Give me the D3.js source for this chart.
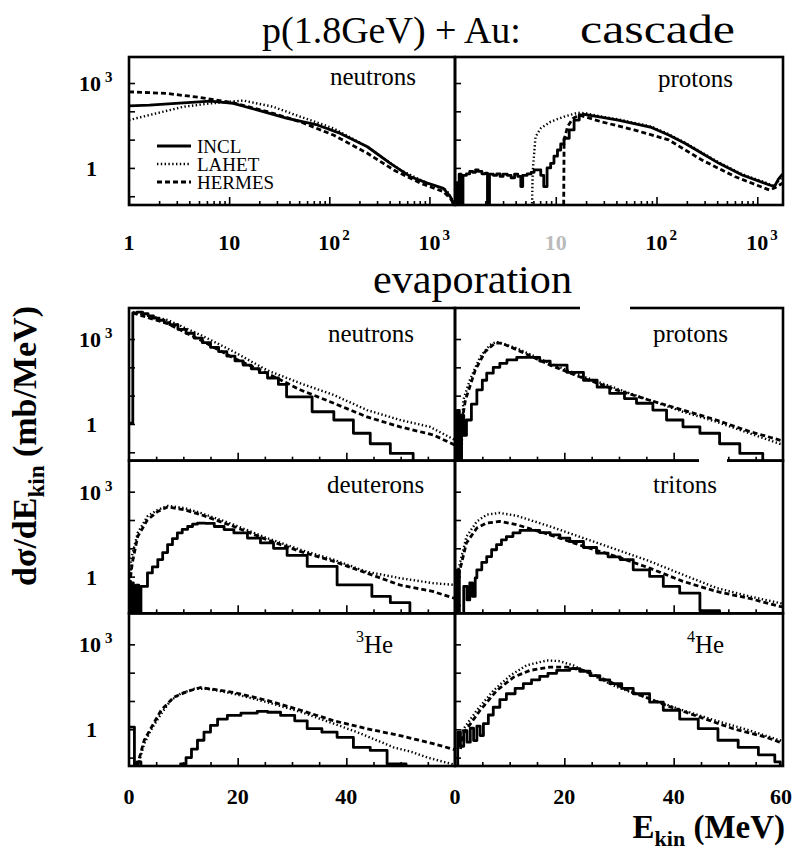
<!DOCTYPE html>
<html>
<head>
<meta charset="utf-8">
<script src="https://cdn.jsdelivr.net/npm/d3@7/dist/d3.min.js"></script>
<style>
html,body{margin:0;padding:0;background:#fff;}
svg{display:block;}
</style>
</head>
<body>
<svg id="chart" width="793" height="857"></svg>
<script>
// ================= DATA =================
const seriesNames = ["INCL", "LAHET", "HERMES"];
const cascadeXTicks = [1, 10, 100, 1000];
const evapXTicksLeft = [0, 20, 40];
const evapXTicksRight = [0, 20, 40, 60];
const yTickLabelValues = [1, 1000];
const cascadeEnergyDomain = [1, 1800];
const cascadeValueDomain = [0.049, 8300];
const evapEnergyDomain = [0, 60];
const evapValueDomain = [0.0506, 12450];

// cascade, neutrons  [E (MeV), dσ/dE (mb/MeV)]
const cascadeNeutronINCL = [[1,155],[1.6,166],[3.5,200],[6.5,229],[11,191],[19,112],[38,56],[76,33],[129,16.6],[240,5.6],[407,1.45],[646,0.49],[955,0.29],[1380,0.19],[1620,0.095],[1740,0.049]];
const cascadeNeutronLAHET = [[1,49],[1.6,74],[3.5,145],[6.5,190],[13.8,240],[27.5,145],[51,65],[110,25],[240,5.6],[510,0.85],[950,0.29],[1480,0.166],[1740,0.063]];
const cascadeNeutronHERMES = [[1,490],[2.4,427],[5.1,309],[11,200],[24,98],[51,43],[110,14.5],[240,3.3],[440,0.85],[810,0.29],[1380,0.145],[1740,0.063]];

// cascade, protons
const cascadeProtonINCLLow = [[1.0,0.3],[1.05,0.001],[1.1,0.6],[1.15,0.001],[1.2,0.55],[1.3,0.62],[1.4,0.75],[1.5,0.7],[1.6,0.85],[1.7,0.75],[1.85,0.62],[2.0,0.65],[2.1,0.001],[2.2,0.6],[2.4,0.55],[2.6,0.62],[2.8,0.5],[3.0,0.6],[3.3,0.55],[3.6,0.45],[3.9,0.6],[4.2,0.5],[4.5,0.22],[4.7,0.55],[5.2,0.62],[5.7,0.7],[6.1,0.85],[7.1,0.55],[7.6,0.22],[8.2,1.0],[8.9,1.45],[9.6,2.6],[10.4,4.3],[11.2,7],[12.1,11.2],[13.6,22],[15.2,49],[17.1,74],[18.5,80]];
const cascadeProtonINCL = [[18.5,80],[28,62],[41.6,49],[89,27],[132,14.5],[191,7.4],[282,3.3],[417,1.45],[708,0.56],[1320,0.25],[1480,0.22],[1620,0.4],[1780,0.6]];
const cascadeProtonLAHET = [[5.7,0.001],[5.9,0.74],[6.3,12.6],[7.1,25],[8.9,43],[12.1,65],[16.6,89],[20,85],[28,66],[41.6,52],[89,29],[132,15.5],[191,7.9],[282,3.5],[417,1.55],[708,0.6],[1320,0.27],[1480,0.23],[1780,0.5]];
const cascadeProtonHERMES = [[11.9,0.001],[12.1,9.8],[13.1,29],[14.8,56],[17.1,74],[28.2,43],[60,22],[132,9.8],[282,1.9],[603,0.49],[1320,0.166],[1500,0.2],[1780,0.29]];

// evaporation, neutrons
const evapNeutronINCL = [[0,1.07],[0.7,8300],[1.5,8900],[2.5,7900],[3.5,6600],[4.5,5500],[5.5,4600],[6.5,3800],[7.5,3200],[9,2200],[10.5,1600],[12,1070],[13.5,740],[15,510],[16.5,360],[18,250],[19.5,170],[21,120],[22.5,89],[24,65],[25.5,42],[27.5,25],[29,9.1],[33.7,2.7],[37.7,1.38],[41.3,0.47],[44.4,0.2],[48.1,0.091],[52.3,0.001]];
const evapNeutronLAHET = [[0.7,8900],[7.1,4700],[13.2,1380],[19.3,355],[25.4,79],[31.6,27],[37.7,10.5],[43.8,3.1],[49.9,1.38],[55.4,0.79],[60,0.27]];
const evapNeutronHERMES = [[0.7,8300],[7.1,3500],[13.2,910],[19.3,210],[25.4,62],[31.6,15.8],[37.7,5.4],[43.8,1.78],[49.9,0.79],[56,0.41],[60,0.18]];

// evaporation, protons
const evapProtonINCL = [[0,0.001],[0.4,3.0],[0.8,0.001],[1.2,2.0],[1.6,0.4],[2.1,1.38],[3.0,5.0],[4.0,16],[5.0,35],[5.8,62],[7.0,100],[8.2,138],[9.5,182],[11.3,224],[13.7,224],[15.5,166],[17.4,120],[20.5,66],[23.5,35],[26,20],[28.3,12],[31,7.9],[33.2,5.4],[36.2,3.1],[38.7,1.38],[41.7,0.79],[44.8,0.47],[48.4,0.2],[52.1,0.091],[56.3,0.001]];
const evapProtonLAHET = [[0.9,0.001],[1.5,6.9],[2.7,35],[4.6,235],[6.4,620],[7.6,800],[11.3,470],[17.4,138],[23.5,47],[29.5,18],[35.6,6.9],[41.7,2.7],[47.8,1.2],[53.9,0.47],[59.4,0.2],[60,0.19]];
const evapProtonHERMES = [[1.0,0.001],[1.2,1.0],[1.9,6.9],[3.7,79],[5.5,355],[7.3,710],[8.5,720],[11.3,420],[17.4,120],[23.5,41],[29.5,16],[35.6,6.9],[41.7,3.1],[47.8,1.38],[53.9,0.54],[59.4,0.27],[60,0.25]];

// evaporation, deuterons
const evapDeuteronINCL = [[0,0.001],[0.3,0.6],[0.8,0.001],[1.3,0.5],[1.8,0.001],[2.2,0.45],[3.4,1.35],[4.3,2.2],[5.3,4.0],[6.2,7.1],[7.1,13.5],[8.0,22],[8.9,35],[9.8,47],[10.8,59],[11.7,71],[12.6,78],[14,76],[15.7,59],[17.5,46],[19.3,35],[21.8,23],[24.2,15.5],[26.6,10],[29.1,5.6],[32.8,2.3],[38.3,0.51],[44.7,0.2],[48.1,0.12],[51.7,0.001]];
const evapDeuteronLAHET = [[0.2,0.001],[0.37,4.0],[1.6,35],[3.4,135],[5.3,230],[7.1,316],[10.2,263],[13.2,178],[19.3,68],[25.4,23],[31.5,8.9],[37.6,4.0],[43.7,1.5],[49.8,0.89],[55.9,0.59],[60,0.51]];
const evapDeuteronHERMES = [[0.1,0.5],[0.6,3.0],[1.6,26],[3.4,102],[5.3,200],[7.1,290],[10.2,230],[13.2,155],[19.3,59],[25.4,20],[31.5,7.8],[37.6,3.5],[43.7,1.35],[49.8,0.51],[55.9,0.3],[60,0.17]];

// evaporation, tritons
const evapTritonINCL = [[0,0.001],[0.3,1.7],[0.8,0.001],[1.6,0.45],[2.2,0.15],[2.7,0.6],[3.2,0.2],[3.7,0.9],[4.0,1.74],[4.9,3.2],[5.8,5.1],[6.7,8.9],[7.6,13.5],[8.5,20],[9.4,26],[10.6,35],[11.9,43],[13.5,43],[15.5,36],[17.4,30],[19.2,23],[21,17.4],[23.5,10.7],[25.9,6.8],[28,5.0],[30.2,4.0],[32.6,1.74],[35.6,1.02],[38.1,0.45],[41.1,0.26],[44.8,0.063],[48.4,0.001]];
const evapTritonLAHET = [[0.3,1.0],[2.1,26],[4.0,89],[5.8,155],[8.2,178],[11.3,141],[17.4,59],[23.5,23],[29.6,8.9],[35.6,3.5],[41.7,1.17],[47.8,0.4],[53.9,0.2],[59.4,0.117],[60,0.11]];
const evapTritonHERMES = [[0.3,0.58],[2.1,15.5],[4.0,52],[5.8,78],[8.2,89],[11.3,68],[17.4,30],[23.5,11.7],[29.6,5.1],[35.6,2.0],[41.7,0.68],[47.8,0.3],[53.9,0.17],[59.4,0.089],[60,0.085]];

// evaporation, 3He
const evap3HeINCL = [[0,1.2],[1.0,0.001],[1.5,0.07],[2.2,0.001],[9.5,0.06],[10.5,0.1],[11.5,0.2],[12.6,0.41],[13.8,0.79],[15.0,1.38],[16.3,2.3],[18.1,3.1],[20.6,3.7],[23.6,4.3],[25.5,4.0],[27.9,3.1],[30.5,2.0],[32.8,1.05],[35.5,0.79],[38.3,0.52],[41.3,0.23],[44.4,0.18],[47.5,0.06],[51,0.001]];
const evap3HeLAHET = [[1.5,0.04],[2.8,0.31],[4.0,0.91],[5.9,3.5],[7.7,10.5],[9.5,18],[12.0,27],[14.4,27],[19.3,18],[25.4,9.1],[31.6,4.1],[37.7,1.58],[42,0.79],[45.6,0.41],[48.7,0.23],[52,0.16],[55,0.1],[58,0.07],[60,0.056]];
const evap3HeHERMES = [[1.5,0.05],[2.8,0.41],[5.9,4.7],[8.3,13.8],[10.8,22],[13.2,30],[19.3,20],[25.4,10.5],[31.6,4.7],[37.7,2.0],[43.8,1.05],[49.9,0.6],[56,0.31],[59.6,0.2],[60,0.19]];

// evaporation, 4He
const evap4HeINCL = [[0,0.001],[0.5,0.8],[1.0,0.25],[1.6,0.9],[2.2,0.35],[2.8,1.1],[3.4,0.4],[4.0,1.3],[4.6,0.6],[5.2,1.58],[6.1,3.2],[7.0,6.0],[8.2,11.2],[9.4,18],[11,28],[12.5,41],[14,56],[15.5,74],[17,95],[18.6,120],[21.0,138],[22.8,112],[24.7,79],[26.5,56],[28.3,41],[30.5,28],[32.6,18],[35.6,9.1],[38.1,4.7],[41.1,2.3],[44.5,1.05],[48.1,0.41],[51.8,0.23],[55.5,0.126],[58.5,0.071],[59.5,0.001]];
const evap4HeLAHET = [[0.5,0.2],[0.9,0.69],[4.0,4.7],[7.0,23],[10.1,79],[13.1,182],[16.8,270],[19,257],[21.6,182],[25.3,79],[29.6,31],[35.6,12],[41.7,4.7],[47.8,2.0],[53.9,0.91],[59.4,0.41],[60,0.38]];
const evap4HeHERMES = [[1.0,0.2],[1.5,0.69],[4.6,4.7],[7.6,23],[10.7,69],[13.7,120],[17.4,158],[20.5,158],[23.5,120],[27.7,54],[32.6,20],[38.7,6.9],[44.8,2.7],[50.9,1.05],[57,0.52],[59.4,0.35],[60,0.33]];

// ================= DRAWING =================
const SERIF = "'Liberation Serif', 'Times New Roman', Times, serif";
const svg = d3.select("#chart");
const defs = svg.append("defs");

const L = {xl: 129, xm: 455, xr: 783, cTop: 57, cBot: 205, eTop: 308, eBot: 766};
const rowH = (L.eBot - L.eTop) / 3;

const styles = {
  INCL:   {w: 2.8, dash: null},
  LAHET:  {w: 2.4, dash: "1.4,2.4"},
  HERMES: {w: 2.8, dash: "5,3"}
};

const xCasL = d3.scaleLog().domain(cascadeEnergyDomain).range([L.xl, L.xm]);
const xCasR = d3.scaleLog().domain(cascadeEnergyDomain).range([L.xm, L.xr]);
const yCas = d3.scaleLog().domain(cascadeValueDomain).range([L.cBot, L.cTop]);
const xEvL = d3.scaleLinear().domain(evapEnergyDomain).range([L.xl, L.xm]);
const xEvR = d3.scaleLinear().domain(evapEnergyDomain).range([L.xm, L.xr]);
const yEv = r => d3.scaleLog().domain(evapValueDomain).range([L.eTop + (r + 1) * rowH, L.eTop + r * rowH]);

const casMinor = [];
cascadeXTicks.forEach(d => { for (let m = 2; m <= 9; m++) if (d * m <= cascadeEnergyDomain[1]) casMinor.push(d * m); });
const evMinor = d3.range(5, 60, 5).filter(v => v % 20 !== 0);
const evMajor = [20, 40];
const yDecades = [0.1, 1, 10, 100, 1000];

function drawPanel(p) {
  const [x0, x1] = p.x.range();
  const [y1, y0] = p.y.range();
  const cid = "clip-" + p.id;
  defs.append("clipPath").attr("id", cid).append("rect")
    .attr("x", x0).attr("y", y0).attr("width", x1 - x0).attr("height", y1 - y0);
  const gp = svg.append("g");
  const gc = gp.append("g").attr("clip-path", `url(#${cid})`);
  p.series.forEach(s => {
    const st = styles[s.name];
    const line = d3.line().x(d => p.x(d[0])).y(d => p.y(d[1]))
      .curve(s.step ? d3.curveStepAfter : d3.curveLinear);
    gc.append("path").datum(s.data).attr("d", line)
      .attr("fill", "none").attr("stroke", "#000")
      .attr("stroke-width", st.w)
      .attr("stroke-dasharray", st.dash)
      .attr("stroke-linejoin", "round");
  });
  const tk = (axis, tr) => {
    const a = gp.append("g").attr("transform", tr).call(axis);
    a.select(".domain").remove();
    a.selectAll("line").attr("stroke", "#000").attr("stroke-width", 1.6);
  };
  tk(d3.axisBottom(p.x).tickValues(p.minor).tickSize(-4).tickFormat(""), `translate(0,${y1})`);
  tk(d3.axisBottom(p.x).tickValues(p.major).tickSize(-8).tickFormat(""), `translate(0,${y1})`);
  tk(d3.axisLeft(p.y).tickValues(yDecades).tickSize(-6).tickFormat(""), `translate(${x0},0)`);
  gp.append("rect").attr("x", x0).attr("y", y0).attr("width", x1 - x0).attr("height", y1 - y0)
    .attr("fill", "none").attr("stroke", "#000").attr("stroke-width", 2.6);
  const t = gp.append("text").attr("x", p.lx).attr("y", p.ly)
    .attr("font-family", SERIF).attr("font-size", 25).attr("fill", "#000");
  if (p.sup) {
    t.append("tspan").attr("font-size", 16).attr("dy", -11).text(p.sup);
    t.append("tspan").attr("dy", 11).text(p.label);
  } else t.text(p.label);
}

const ser = (a, b, c) => [
  {name: "HERMES", data: c}, {name: "LAHET", data: b}, {name: "INCL", data: a, step: true}
];

const panels = [
  {id: "cn", x: xCasL, y: yCas, minor: casMinor, major: cascadeXTicks, label: "neutrons", lx: 330, ly: 85,
   series: [{name: "HERMES", data: cascadeNeutronHERMES}, {name: "LAHET", data: cascadeNeutronLAHET}, {name: "INCL", data: cascadeNeutronINCL}]},
  {id: "cp", x: xCasR, y: yCas, minor: casMinor, major: cascadeXTicks, label: "protons", lx: 658, ly: 87,
   series: [{name: "HERMES", data: cascadeProtonHERMES}, {name: "LAHET", data: cascadeProtonLAHET},
            {name: "INCL", data: cascadeProtonINCLLow, step: true}, {name: "INCL", data: cascadeProtonINCL}]},
  {id: "en", x: xEvL, y: yEv(0), minor: evMinor, major: evMajor, label: "neutrons", lx: 328, ly: 342, series: ser(evapNeutronINCL, evapNeutronLAHET, evapNeutronHERMES)},
  {id: "ep", x: xEvR, y: yEv(0), minor: evMinor, major: evMajor, label: "protons", lx: 653, ly: 342, series: ser(evapProtonINCL, evapProtonLAHET, evapProtonHERMES)},
  {id: "ed", x: xEvL, y: yEv(1), minor: evMinor, major: evMajor, label: "deuterons", lx: 327, ly: 493, series: ser(evapDeuteronINCL, evapDeuteronLAHET, evapDeuteronHERMES)},
  {id: "et", x: xEvR, y: yEv(1), minor: evMinor, major: evMajor, label: "tritons", lx: 653, ly: 493, series: ser(evapTritonINCL, evapTritonLAHET, evapTritonHERMES)},
  {id: "e3", x: xEvL, y: yEv(2), minor: evMinor, major: evMajor, label: "He", sup: "3", lx: 356, ly: 653, series: ser(evap3HeINCL, evap3HeLAHET, evap3HeHERMES)},
  {id: "e4", x: xEvR, y: yEv(2), minor: evMinor, major: evMajor, label: "He", sup: "4", lx: 687, ly: 653, series: ser(evap4HeINCL, evap4HeLAHET, evap4HeHERMES)}
];
panels.forEach(drawPanel);

// ---------- tick labels ----------
const TL = {"font-family": SERIF, "font-size": 22, "font-weight": "bold"};
function txt(x, y, s, anchor, extra) {
  const t = svg.append("text").attr("x", x).attr("y", y).attr("text-anchor", anchor || "middle").text(s);
  Object.entries(Object.assign({}, TL, extra || {})).forEach(([k, v]) => t.attr(k, v));
  return t;
}
[yCas, yEv(0), yEv(1), yEv(2)].forEach(ys => {
  yTickLabelValues.forEach(v => {
    if (v === 1) txt(97, ys(v) + 8, "1", "end");
    else {
      txt(101, ys(v) + 8, "10", "end");
      txt(105, ys(v) - 1, String(Math.round(Math.log10(v))), "start", {"font-size": 15});
    }
  });
});
function logLabel(xs, v, faint) {
  const e = Math.round(Math.log10(v));
  const y = 250;
  let t;
  if (e === 0) t = txt(xs(v), y, "1");
  else if (e === 1) t = txt(xs(v), y, "10");
  else {
    t = txt(xs(v), y, "10");
    txt(xs(v) + 13, y - 10, String(e), "start", {"font-size": 15});
  }
  if (faint) t.attr("fill", "#bbb");
}
cascadeXTicks.forEach(v => logLabel(xCasL, v));
cascadeXTicks.filter(v => v > 1).forEach(v => logLabel(xCasR, v, v === 10));
evapXTicksLeft.forEach(v => txt(xEvL(v), 804, String(v)));
evapXTicksRight.forEach(v => txt(xEvR(v) + (v === 60 ? -2 : 0), 804, String(v)));

// ---------- legend ----------
seriesNames.forEach((n, i) => {
  const y = 146 + i * 18;
  svg.append("line").attr("x1", 157).attr("x2", 191).attr("y1", y).attr("y2", y)
    .attr("stroke", "#000").attr("stroke-width", styles[n].w).attr("stroke-dasharray", styles[n].dash);
  svg.append("text").attr("x", 197).attr("y", y + 6.5).attr("font-family", SERIF).attr("font-size", 19).text(n);
});

// ---------- titles ----------
svg.append("text").attr("x", 262).attr("y", 43).attr("font-family", SERIF).attr("font-size", 38).text("p(1.8GeV) + Au:");
svg.append("text").attr("x", 580).attr("y", 43).attr("font-family", SERIF).attr("font-size", 40)
  .attr("textLength", 155).attr("lengthAdjust", "spacingAndGlyphs").text("cascade");
svg.append("text").attr("x", 373).attr("y", 293).attr("font-family", SERIF).attr("font-size", 40)
  .attr("textLength", 199).attr("lengthAdjust", "spacingAndGlyphs").text("evaporation");

const yt = svg.append("text").attr("transform", "translate(36,446) rotate(-90)")
  .attr("text-anchor", "middle").attr("font-family", SERIF).attr("font-size", 34).attr("font-weight", "bold");
yt.append("tspan").text("dσ/dE");
yt.append("tspan").attr("font-size", 23).attr("dy", 8).text("kin");
yt.append("tspan").attr("dy", -8).text(" (mb/MeV)");

const xt = svg.append("text").attr("x", 785).attr("y", 838).attr("text-anchor", "end")
  .attr("font-family", SERIF).attr("font-size", 33).attr("font-weight", "bold");
xt.append("tspan").text("E");
xt.append("tspan").attr("font-size", 22).attr("dy", 8).text("kin");
xt.append("tspan").attr("dy", -8).text(" (MeV)");

// scan blemishes (white gaps in frame lines)
svg.append("rect").attr("x", 580).attr("y", 302).attr("width", 50).attr("height", 12).attr("fill", "#fff");
svg.append("rect").attr("x", 699).attr("y", 456).attr("width", 28).attr("height", 12).attr("fill", "#fff");
</script>
</body>
</html>
